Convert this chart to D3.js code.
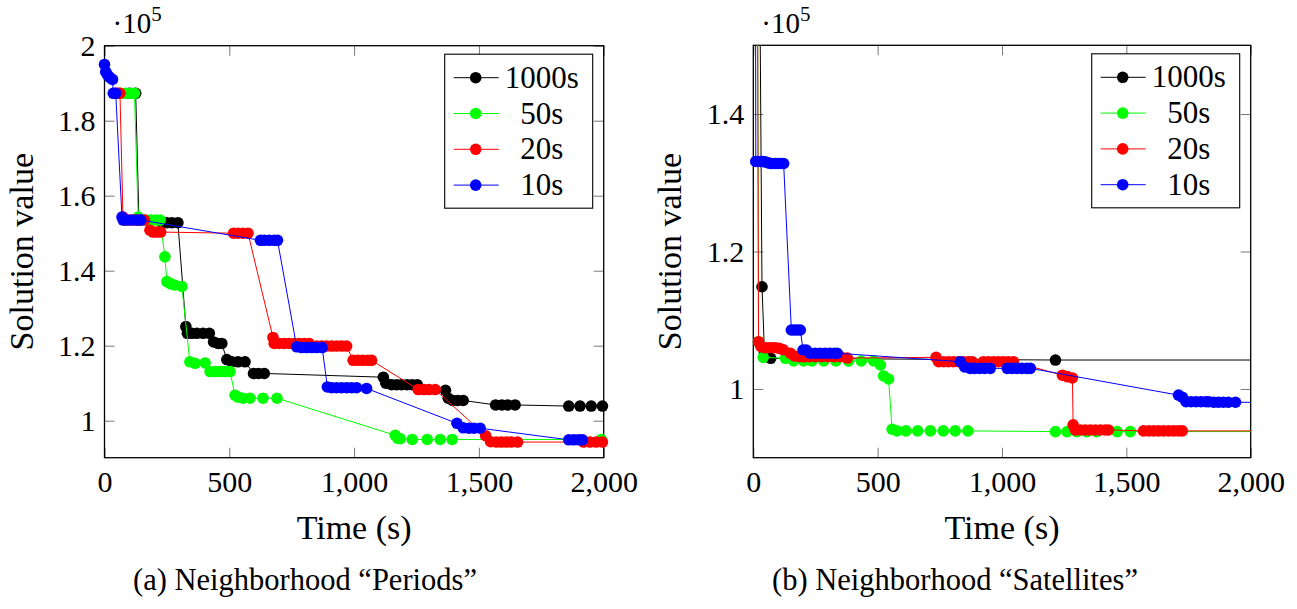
<!DOCTYPE html>
<html>
<head>
<meta charset="utf-8">
<script src="https://cdn.jsdelivr.net/npm/d3@7"></script>
<style>
   body { margin: 0; background: #fff; }
</style>
</head>
<body>
<svg id="chart" width="1297" height="609"></svg>
<script>
// values are in units of 10^5, times in seconds
var seriesNames = ['1000s', '50s', '20s', '10s'];
var seriesColors = ['#000000', '#00ff00', '#ff0000', '#0000ff'];
var xTicks = [0, 500, 1000, 1500, 2000];
var serif = '"Liberation Serif", "Times New Roman", serif';

// (a) Neighborhood "Periods"
var periodsTicks = [1, 1.2, 1.4, 1.6, 1.8, 2];
var periods1000 = [[100, 1.873], [125, 1.873], [138, 1.535], [232, 1.528], [250, 1.528], [270, 1.528], [294, 1.528],
   [326, 1.251], [332, 1.233], [350, 1.233], [370, 1.233], [395, 1.233], [420, 1.233], [437, 1.210], [455, 1.206],
   [470, 1.206], [490, 1.163], [510, 1.157], [535, 1.157], [563, 1.157], [597, 1.126], [617, 1.126], [640, 1.126],
   [1117, 1.116], [1127, 1.100], [1150, 1.096], [1170, 1.096], [1190, 1.096], [1212, 1.096], [1232, 1.096], [1253, 1.096],
   [1366, 1.081], [1377, 1.060], [1395, 1.054], [1415, 1.054], [1437, 1.054], [1567, 1.042], [1592, 1.042], [1615, 1.042],
   [1645, 1.042], [1860, 1.039], [1905, 1.039], [1950, 1.039], [1995, 1.039]];
var periods50 = [[65, 1.873], [85, 1.873], [105, 1.873], [120, 1.873], [135, 1.543], [145, 1.535], [165, 1.535],
   [185, 1.535], [205, 1.535], [223, 1.535], [242, 1.437], [250, 1.371], [265, 1.365], [280, 1.362], [310, 1.358],
   [342, 1.157], [363, 1.153], [403, 1.154], [423, 1.131], [445, 1.131], [465, 1.131], [485, 1.131], [503, 1.131],
   [523, 1.068], [535, 1.063], [555, 1.060], [583, 1.060], [635, 1.060], [691, 1.060], [1165, 0.961], [1175, 0.953],
   [1185, 0.952], [1233, 0.950], [1293, 0.950], [1345, 0.950], [1393, 0.950], [1990, 0.950]];
var periods20 = [[45, 1.873], [55, 1.873], [62, 1.873], [74, 1.543], [80, 1.535], [100, 1.535], [120, 1.535], [140, 1.535],
   [160, 1.535], [182, 1.508], [195, 1.503], [210, 1.503], [225, 1.503], [517, 1.500], [535, 1.500], [555, 1.500],
   [575, 1.500], [675, 1.222], [680, 1.206], [700, 1.206], [720, 1.206], [740, 1.206], [760, 1.206], [780, 1.206],
   [800, 1.206], [820, 1.206], [851, 1.199], [870, 1.199], [890, 1.199], [910, 1.199], [930, 1.199], [950, 1.199],
   [970, 1.199], [996, 1.161], [1015, 1.161], [1035, 1.161], [1055, 1.161], [1070, 1.161], [1257, 1.083], [1280, 1.083],
   [1300, 1.083], [1325, 1.083], [1527, 0.960], [1547, 0.944], [1570, 0.943], [1590, 0.943], [1610, 0.943], [1630, 0.943],
   [1655, 0.943], [1920, 0.943], [1945, 0.943], [1970, 0.943], [1995, 0.943]];
var periods10 = [[0, 1.950], [5, 1.930], [12, 1.922], [22, 1.915], [32, 1.910], [35, 1.873], [45, 1.873], [70, 1.543],
   [75, 1.535], [90, 1.535], [110, 1.535], [130, 1.535], [145, 1.535], [625, 1.481], [640, 1.481], [660, 1.481],
   [680, 1.481], [693, 1.481], [770, 1.197], [790, 1.195], [810, 1.195], [830, 1.195], [850, 1.195], [872, 1.195],
   [893, 1.090], [910, 1.088], [930, 1.088], [950, 1.088], [970, 1.088], [990, 1.088], [1010, 1.088], [1050, 1.086],
   [1412, 0.993], [1437, 0.981], [1460, 0.980], [1480, 0.980], [1505, 0.980], [1860, 0.949], [1880, 0.949],
   [1900, 0.949], [1915, 0.949]];

// (b) Neighborhood "Satellites"
var satellitesTicks = [1, 1.2, 1.4];
var satellites1000 = [[20, 1.9], [35, 1.1487], [45, 1.052], [57, 1.047], [70, 1.0446], [1215, 1.0421], [2200, 1.0421]];
var satellites50 = [[15, 1.9], [21, 1.0688], [40, 1.046], [129, 1.0446], [162, 1.0407], [202, 1.0407], [236, 1.0407],
   [283, 1.0407], [332, 1.0407], [383, 1.0407], [434, 1.0407], [484, 1.0407], [511, 1.0349], [524, 1.0189], [544, 1.0145],
   [558, 0.9414], [578, 0.939], [614, 0.939], [661, 0.939], [712, 0.939], [764, 0.939], [812, 0.939], [863, 0.939],
   [1215, 0.938], [1262, 0.938], [1300, 0.938], [1340, 0.938], [1380, 0.938], [1463, 0.938], [1516, 0.938], [2200, 0.938]];
var satellites20 = [[15, 1.9], [21, 1.0688], [30, 1.062], [45, 1.06], [60, 1.06], [75, 1.06], [90, 1.06], [105, 1.059],
   [121, 1.057], [149, 1.052], [165, 1.048], [185, 1.047], [205, 1.047], [225, 1.047], [250, 1.047], [275, 1.047],
   [300, 1.047], [325, 1.047], [350, 1.047], [378, 1.045], [735, 1.046], [745, 1.0397], [765, 1.0397], [785, 1.0397],
   [805, 1.0397], [825, 1.0397], [845, 1.0397], [865, 1.0397], [880, 1.0397], [925, 1.0397], [945, 1.0397],
   [965, 1.0397], [985, 1.0397], [1005, 1.0397], [1025, 1.0397], [1046, 1.0397], [1243, 1.020], [1262, 1.018],
   [1283, 1.016], [1286, 0.9477], [1295, 0.9404], [1315, 0.9404], [1335, 0.9404], [1355, 0.9404], [1375, 0.9404],
   [1395, 0.9404], [1415, 0.9404], [1428, 0.9404], [1569, 0.939], [1590, 0.939], [1610, 0.939], [1630, 0.939],
   [1650, 0.939], [1670, 0.939], [1690, 0.939], [1710, 0.939], [1725, 0.939], [2200, 0.939]];
var satellites10 = [[8, 1.9], [10, 1.331], [20, 1.331], [30, 1.331], [40, 1.331], [50, 1.330], [60, 1.329], [70, 1.328],
   [80, 1.328], [90, 1.328], [100, 1.328], [110, 1.328], [122, 1.328], [153, 1.0858], [165, 1.0858], [177, 1.0858],
   [189, 1.0858], [200, 1.0567], [213, 1.0567], [228, 1.052], [248, 1.052], [268, 1.052], [288, 1.052], [308, 1.052],
   [325, 1.052], [337, 1.052], [832, 1.0397], [850, 1.032], [872, 1.030], [890, 1.030], [910, 1.030], [930, 1.030],
   [953, 1.030], [1021, 1.030], [1040, 1.030], [1060, 1.030], [1080, 1.030], [1100, 1.030], [1114, 1.030],
   [1710, 0.991], [1725, 0.988], [1740, 0.9815], [1760, 0.9815], [1780, 0.9815], [1800, 0.9815], [1820, 0.9815],
   [1831, 0.9815], [1851, 0.9807], [1870, 0.9807], [1890, 0.9807], [1910, 0.9807], [1939, 0.9807], [2200, 0.980]];

var svg = d3.select('#chart');

function drawPanel(p) {
   var x = d3.scaleLinear().domain([0, 2000]).range([p.left, p.right]);
   var y = d3.scaleLinear().domain(p.yDomain).range([p.bottom, p.top]);
   var g = svg.append('g');
   var tickLen = 10;

   g.append('clipPath').attr('id', p.id + '-clip')
      .append('rect')
      .attr('x', p.left).attr('y', p.top)
      .attr('width', p.right - p.left).attr('height', p.bottom - p.top);

   // ticks on all four sides, pointing inward
   var bottomAxis = g.append('g').attr('transform', 'translate(0,' + p.bottom + ')')
      .call(d3.axisBottom(x).tickValues(xTicks).tickFormat(d3.format(',')).tickSizeInner(-tickLen).tickSizeOuter(0).tickPadding(13));
   var topAxis = g.append('g').attr('transform', 'translate(0,' + p.top + ')')
      .call(d3.axisTop(x).tickValues(xTicks).tickFormat('').tickSizeInner(-tickLen).tickSizeOuter(0));
   var leftAxis = g.append('g').attr('transform', 'translate(' + p.left + ',0)')
      .call(d3.axisLeft(y).tickValues(p.yTicks).tickFormat(function (d) {
         return d % 1 === 0 ? String(d) : d3.format('.1f')(d);
      }).tickSizeInner(-tickLen).tickSizeOuter(0).tickPadding(9));
   var rightAxis = g.append('g').attr('transform', 'translate(' + p.right + ',0)')
      .call(d3.axisRight(y).tickValues(p.yTicks).tickFormat('').tickSizeInner(-tickLen).tickSizeOuter(0));

   [bottomAxis, topAxis, leftAxis, rightAxis].forEach(function (a) {
      a.attr('font-family', null).attr('font-size', null);
      a.select('.domain').remove();
      a.selectAll('.tick line').attr('stroke', '#777').attr('stroke-width', 1);
      a.selectAll('.tick text').style('font-size', '30px').attr('fill', '#000');
   });

   g.append('rect')
      .attr('x', p.left).attr('y', p.top)
      .attr('width', p.right - p.left).attr('height', p.bottom - p.top)
      .attr('fill', 'none').attr('stroke', '#000').attr('stroke-width', 1.3);

   var line = d3.line()
      .x(function (d) { return x(d[0]); })
      .y(function (d) { return y(d[1]); });

   p.series.forEach(function (data, i) {
      var sg = g.append('g');

      sg.append('path')
         .datum(data)
         .attr('d', line)
         .attr('clip-path', 'url(#' + p.id + '-clip)')
         .attr('fill', 'none')
         .attr('stroke', seriesColors[i])
         .attr('stroke-width', 1);

      sg.selectAll('circle')
         .data(data.filter(function (d) {
            return d[0] <= 2000 && d[1] <= p.yDomain[1] && d[1] >= p.yDomain[0];
         }))
         .enter().append('circle')
         .attr('cx', function (d) { return x(d[0]); })
         .attr('cy', function (d) { return y(d[1]); })
         .attr('r', 5.8)
         .attr('fill', seriesColors[i]);
   });

   // multiplier
   var mult = g.append('text')
      .attr('x', p.left + 8)
      .attr('y', 33)
      .style('font-size', '29px');
   mult.append('tspan').text('·10');
   mult.append('tspan').style('font-size', '21px').attr('dy', -12).text('5');

   // legend
   var lg = g.append('g').attr('transform', 'translate(' + (p.right - 159) + ',' + (p.top + 8.5) + ')');
   lg.append('rect')
      .attr('width', 148).attr('height', 154)
      .attr('fill', '#fff').attr('stroke', '#000').attr('stroke-width', 1.1);

   var item = lg.selectAll('.legendItem')
      .data(seriesNames)
      .enter().append('g')
      .attr('class', 'legendItem')
      .attr('transform', function (d, i) {
         return 'translate(0,' + (23.5 + i * 35.8) + ')';
      });

   item.append('line')
      .attr('x1', 9).attr('x2', 54)
      .attr('stroke', function (d, i) { return seriesColors[i]; })
      .attr('stroke-width', 1);
   item.append('circle')
      .attr('cx', 31).attr('r', 5.8)
      .attr('fill', function (d, i) { return seriesColors[i]; });
   item.append('text')
      .attr('x', 97).attr('y', 10)
      .attr('text-anchor', 'middle')
      .style('font-size', '31px')
      .text(function (d) { return d; });

   // axis titles and caption
   g.append('text')
      .attr('x', (p.left + p.right) / 2).attr('y', 539)
      .attr('text-anchor', 'middle').style('font-size', '34px')
      .text('Time (s)');

   g.append('text')
      .attr('transform', 'translate(' + (p.left - 72) + ',' + ((p.top + p.bottom) / 2) + ') rotate(-90)')
      .attr('text-anchor', 'middle').style('font-size', '34px')
      .text('Solution value');

   g.append('text')
      .attr('x', p.captionX).attr('y', 590)
      .attr('text-anchor', 'middle').style('font-size', '30.5px')
      .text(p.caption);
}

drawPanel({
   id: 'periods',
   left: 104.5, right: 603.7, top: 45.7, bottom: 457.7,
   yDomain: [0.9013, 2.0],
   yTicks: periodsTicks,
   series: [periods1000, periods50, periods20, periods10],
   caption: '(a) Neighborhood \u201cPeriods\u201d',
   captionX: 305
});

drawPanel({
   id: 'satellites',
   left: 753.3, right: 1250.7, top: 45.3, bottom: 457.7,
   yDomain: [0.9, 1.5],
   yTicks: satellitesTicks,
   series: [satellites1000, satellites50, satellites20, satellites10],
   caption: '(b) Neighborhood \u201cSatellites\u201d',
   captionX: 955
});

svg.selectAll('text').style('font-family', serif).attr('fill', '#000');
</script>
</body>
</html>
